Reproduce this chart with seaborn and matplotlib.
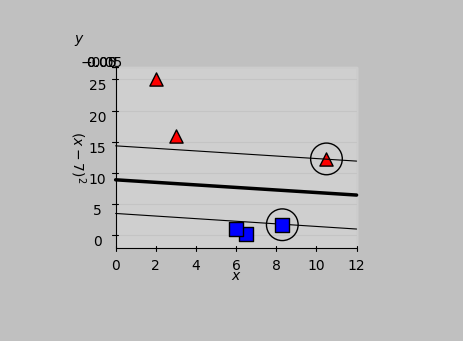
import numpy as np
import matplotlib
matplotlib.use("Agg")
import matplotlib.pyplot as plt
import seaborn as sns

sns.set_style("white", {"text.color": "black", "xtick.color": "black",
                        "ytick.color": "black", "axes.labelcolor": "black",
                        "axes.edgecolor": "black"})
plt.rcParams['font.family'] = ['DejaVu Sans']

# data
x_pos = [2.0, 3.0, 10.5]
x_neg = [6.0, 6.5, 8.3]
y_pos = [(v - 7) ** 2 for v in x_pos]
y_neg = [(v - 7) ** 2 for v in x_neg]
sv_x = [10.5, 8.3]
sv_y = [(v - 7) ** 2 for v in sv_x]
line_x = [0, 12]
boundary_y = [8.9, 6.45]
upper_y = [14.35, 11.9]
lower_y = [3.5, 1.0]

fig = plt.figure(figsize=(4.63, 3.41), dpi=100, facecolor='#c0c0c0')
ax = fig.add_axes([0, 0.025, 1, 1], projection='3d', facecolor='#c0c0c0', proj_type='ortho')
ax.view_init(elev=90, azim=-90)
ax.set_box_aspect((4, 3, 3))

for pane in (ax.xaxis, ax.yaxis, ax.zaxis):
    pane.set_pane_color((0.81, 0.81, 0.81, 1.0))
    pane.line.set_color('black')
ax.xaxis._axinfo['grid']['color'] = (0.81, 0.81, 0.81, 1)
ax.yaxis._axinfo['grid']['color'] = (0.77, 0.77, 0.77, 1)

z0 = np.zeros(2)
ax.plot(line_x, boundary_y, z0, color='k', lw=2.5)
ax.plot(line_x, upper_y, z0, color='k', lw=0.8)
ax.plot(line_x, lower_y, z0, color='k', lw=0.8)

ax.scatter(x_pos, y_pos, np.zeros(3), marker='^', s=90, c='red', edgecolors='k', depthshade=False)
ax.scatter(x_neg, y_neg, np.zeros(3), marker='s', s=90, c='blue', edgecolors='k', depthshade=False)
ax.scatter(sv_x, sv_y, np.zeros(2), marker='o', s=520, facecolors='none', edgecolors='k', depthshade=False)

ax.set_xlim(0, 12, view_margin=0)
ax.set_ylim(-2, 27, view_margin=0)
ax.set_zlim(-0.05, 0.05, view_margin=0)
ax.set_xticks([0, 2, 4, 6, 8, 10, 12])
ax.set_yticks([0, 5, 10, 15, 20, 25])
ax.set_zticks([-0.05, 0.0, 0.05])
ax.tick_params(axis='x', pad=0, colors='black')
ax.tick_params(axis='y', pad=1.5, colors='black')
ax.tick_params(axis='z', pad=-0.5, colors='black')
ax.set_xlabel('$x$', labelpad=-1)
ax.set_zlabel('$y$', labelpad=-2)
fig.text(78 / 463, 1 - 157 / 341, '$(x-7)^2$', rotation=-90, ha='center', va='center',
         fontsize=10, color='black')

fig.savefig('out.png', dpi=100, facecolor=fig.get_facecolor())
